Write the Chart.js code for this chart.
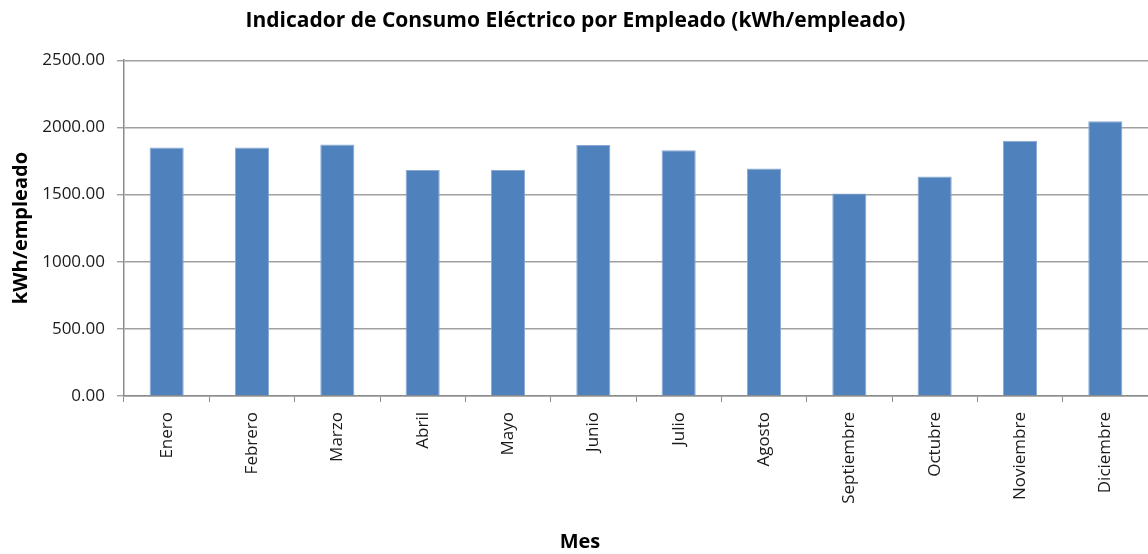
<!DOCTYPE html>
<html>
<head>
<meta charset="utf-8">
<script src="https://cdn.jsdelivr.net/npm/chart.js@4/dist/chart.umd.min.js"></script>
<style>
  html,body{margin:0;padding:0;background:#fff;}
  #wrap{width:1148px;height:554px;}
</style>
</head>
<body>
<div id="wrap"><canvas id="myChart" width="1148" height="554"></canvas></div>
<script>
// datos
const meses = ['Enero','Febrero','Marzo','Abril','Mayo','Junio','Julio','Agosto','Septiembre','Octubre','Noviembre','Diciembre'];
const consumoPorEmpleado = [1850, 1850, 1873, 1682, 1682, 1868, 1830, 1694, 1508, 1635, 1900, 2046];
const yTicks = [0, 500, 1000, 1500, 2000, 2500];

const fontFam = '"Open Sans", "DejaVu Sans", sans-serif';
Chart.defaults.font.family = fontFam;
Chart.defaults.color = '#1a1a1a';

// el titulo "Mes" en el original no esta centrado sobre el area del grafico
const mesTitle = {
  id: 'mesTitle',
  afterDraw(chart){
    const c = chart.ctx;
    c.save();
    c.font = 'bold 20px ' + fontFam;
    c.fillStyle = '#000';
    c.textAlign = 'center';
    c.textBaseline = 'middle';
    c.fillText('Mes', chart.width / 2 + 6, chart.height - 12);
    c.restore();
  }
};

var ctx = document.getElementById('myChart').getContext('2d');
var chart = new Chart(ctx, {
  type: 'bar',
  data: {
    labels: meses,
    datasets: [{
      label: 'kWh/empleado',
      data: consumoPorEmpleado,
      backgroundColor: '#4F81BD',
      borderColor: '#8aaad4',
      borderWidth: 1,
      barPercentage: 0.4,
      categoryPercentage: 1
    }]
  },
  options: {
    responsive: false,
    animation: false,
    layout: { padding: { left: 0, right: -3, top: 0, bottom: 0 } },
    plugins: {
      legend: { display: false },
      tooltip: { enabled: false },
      title: {
        display: true,
        text: 'Indicador de Consumo Eléctrico por Empleado (kWh/empleado)',
        font: { size: 21, weight: 'bold' },
        color: '#000',
        padding: { top: 8, bottom: 27 }
      }
    },
    scales: {
      x: {
        grid: { drawOnChartArea: false, drawTicks: true, tickLength: 6, color: '#8c8c8c', offset: true },
        border: { color: '#8c8c8c', width: 1.5 },
        ticks: { minRotation: 90, maxRotation: 90, font: { size: 17 }, padding: 10, color: '#1a1a1a' },
        title: { display: false },
        afterFit: function(scale){ scale.height = 158; }
      },
      y: {
        min: 0,
        max: 2500,
        afterBuildTicks: function(scale){ scale.ticks = yTicks.map(v => ({ value: v })); },
        grid: { color: '#a0a0a0', lineWidth: 1.4, tickLength: 7 },
        border: { color: '#8c8c8c', width: 1.5 },
        ticks: {
          font: { size: 17 },
          padding: 12,
          color: '#1a1a1a',
          callback: function(v){ return Number(v).toFixed(2); }
        },
        title: { display: true, text: 'kWh/empleado', font: { size: 20, weight: 'bold' }, color: '#000', padding: { top: 9, bottom: 0 } },
        afterFit: function(scale){ scale.width = 124; }
      }
    }
  },
  plugins: [mesTitle]
});
</script>
</body>
</html>
